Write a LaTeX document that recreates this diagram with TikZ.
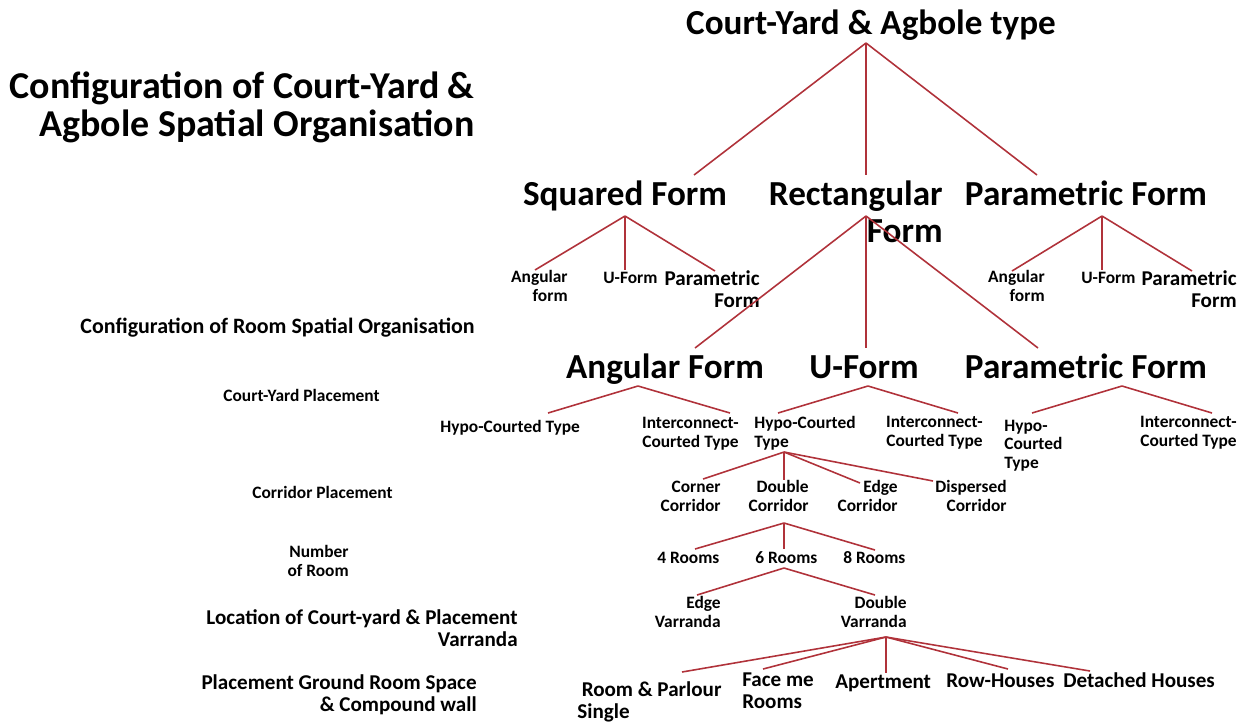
\documentclass[tikz,border=0pt]{standalone}
\usepackage{fontspec}
\setmainfont{Carlito}
\definecolor{linkred}{RGB}{176,50,58}

\begin{document}
\begin{tikzpicture}[x=0.02cm, y=-0.02cm,
	txt/.style={inner sep=0pt},
	big/.style={txt, font=\bfseries\fontsize{20}{21}\selectfont},
	head/.style={txt, font=\bfseries\fontsize{21.6}{21.4}\selectfont},
	mid/.style={txt, font=\bfseries\fontsize{12}{12}\selectfont},
	sml/.style={txt, font=\bfseries\fontsize{9.9}{10.5}\selectfont},
	link/.style={linkred, line width=0.9pt}]
\useasboundingbox (0,0) rectangle (1250,725);

% levels on the left (base = last line)
\node[head, align=right, anchor=base east] (ttl) at (475,136) {Configuration of Court-Yard \&\\Agbole Spatial Organisation};
\node[txt, font=\bfseries\fontsize{12.5}{13}\selectfont, anchor=base east] (lvRoom) at (475,333) {Configuration of Room Spatial Organisation};
\node[sml, anchor=base east] (lvCourt) at (380,401) {Court-Yard Placement};
\node[sml, anchor=base east] (lvCorr) at (393,498) {Corridor Placement};
\node[sml, align=right, anchor=base east] (lvNum) at (349,576) {Number\\of Room};
\node[mid, align=right, anchor=base east] (lvLoc) at (518,646) {Location of Court-yard \& Placement\\Varranda};
\node[mid, align=right, anchor=base east] (lvGround) at (477,711) {Placement Ground Room Space\\\& Compound wall};

% tree
\node[big, anchor=base] (root) at (871,34) {Court-Yard \& Agbole type};

\node[big, anchor=base] (sq) at (625,205) {Squared Form};
\node[big, align=right, anchor=base east] (rect) at (943,242) {Rectangular\\Form};
\node[big, anchor=base] (par) at (1086,205) {Parametric Form};

\node[sml, align=right, anchor=base east] (sqA) at (568,301) {Angular\\form};
\node[sml, anchor=base west] (sqU) at (603,283) {U-Form};
\node[mid, align=right, anchor=base east] (sqP) at (760,307) {Parametric\\Form};
\node[sml, align=right, anchor=base east] (paA) at (1045,301) {Angular\\form};
\node[sml, anchor=base west] (paU) at (1081,283) {U-Form};
\node[mid, align=right, anchor=base east] (paP) at (1237,307) {Parametric\\Form};

\node[big, anchor=base] (ang) at (665,378) {Angular Form};
\node[big, anchor=base] (uf) at (864,378) {U-Form};
\node[big, anchor=base] (pf) at (1086,378) {Parametric Form};

\node[sml, anchor=base west] (angH) at (440,432) {Hypo-Courted Type};
\node[sml, align=right, anchor=base east] (angI) at (739,447) {Interconnect-\\Courted Type};
\node[sml, align=left, anchor=base west] (ufH) at (754,447) {Hypo-Courted\\Type};
\node[sml, align=right, anchor=base east] (ufI) at (983,446) {Interconnect-\\Courted Type};
\node[sml, align=left, anchor=base west] (pfH) at (1004,468) {Hypo-\\Courted\\Type};
\node[sml, align=right, anchor=base east] (pfI) at (1237,446) {Interconnect-\\Courted Type};

\node[sml, align=right, anchor=base east] (cCorner) at (721,511) {Corner\\Corridor};
\node[sml, align=right, anchor=base east] (cDouble) at (809,511) {Double\\Corridor};
\node[sml, align=right, anchor=base east] (cEdge) at (898,511) {Edge\\Corridor};
\node[sml, align=right, anchor=base east] (cDisp) at (1007,511) {Dispersed\\Corridor};

\node[sml, anchor=base west] (r4) at (657,563) {4 Rooms};
\node[sml, anchor=base west] (r6) at (755,563) {6 Rooms};
\node[sml, anchor=base west] (r8) at (843,563) {8 Rooms};

\node[sml, align=right, anchor=base east] (vEdge) at (721,627) {Edge\\Varranda};
\node[sml, align=right, anchor=base east] (vDouble) at (907,627) {Double\\Varranda};

\node[mid, align=left, anchor=base west] (gRoom) at (577,718) {\hspace*{2.5pt}Room \& Parlour\\Single};
\node[mid, align=left, anchor=base west] (gFace) at (742,708) {Face me\\Rooms};
\node[mid, anchor=base west] (gApt) at (835,688) {Apertment};
\node[mid, anchor=base west] (gRow) at (946,687) {Row-Houses};
\node[mid, anchor=base west] (gDet) at (1063,687) {Detached Houses};

% connector ends
\coordinate (root-b) at (866,43);
\coordinate (sq-t) at (694,175); \coordinate (rect-t) at (866,175); \coordinate (par-t) at (1037,175);
\coordinate (sq-b) at (625,216);
\coordinate (sqA-t) at (535,270); \coordinate (sqU-t) at (625,270); \coordinate (sqP-t) at (715,271);
\coordinate (rect-b) at (866,216);
\coordinate (ang-t) at (695,348); \coordinate (uf-t) at (866,348); \coordinate (pf-t) at (1038,348);
\coordinate (par-b) at (1102,216);
\coordinate (paA-t) at (1012,271); \coordinate (paU-t) at (1102,270); \coordinate (paP-t) at (1192,271);
\coordinate (ang-b) at (638,386);
\coordinate (angH-t) at (548,413); \coordinate (angI-t) at (730,413);
\coordinate (uf-b) at (868,386);
\coordinate (ufH-t) at (778,413); \coordinate (ufI-t) at (958,413);
\coordinate (pf-b) at (1122,386);
\coordinate (pfH-t) at (1032,413); \coordinate (pfI-t) at (1212,413);
\coordinate (ufH-b) at (784,452);
\coordinate (cCorner-t) at (703,479); \coordinate (cDouble-t) at (784,480); \coordinate (cEdge-t) at (860,483); \coordinate (cDisp-t) at (933,481);
\coordinate (cDouble-b) at (784,523);
\coordinate (r4-t) at (695,549); \coordinate (r6-t) at (784,549); \coordinate (r8-t) at (875,550);
\coordinate (r6-b) at (784,568);
\coordinate (vEdge-t) at (697,595); \coordinate (vDouble-t) at (875,595);
\coordinate (vDouble-b) at (886,637);
\coordinate (gRoom-t) at (682,672); \coordinate (gFace-t) at (763,669); \coordinate (gApt-t) at (886,673); \coordinate (gRow-t) at (1008,669); \coordinate (gDet-t) at (1090,671);

\foreach \a/\b in {root-b/sq-t, root-b/rect-t, root-b/par-t,
		sq-b/sqA-t, sq-b/sqU-t, sq-b/sqP-t,
		rect-b/ang-t, rect-b/uf-t, rect-b/pf-t,
		par-b/paA-t, par-b/paU-t, par-b/paP-t,
		ang-b/angH-t, ang-b/angI-t, uf-b/ufH-t, uf-b/ufI-t, pf-b/pfH-t, pf-b/pfI-t,
		ufH-b/cCorner-t, ufH-b/cDouble-t, ufH-b/cEdge-t, ufH-b/cDisp-t,
		cDouble-b/r4-t, cDouble-b/r6-t, cDouble-b/r8-t,
		r6-b/vEdge-t, r6-b/vDouble-t,
		vDouble-b/gRoom-t, vDouble-b/gFace-t, vDouble-b/gApt-t, vDouble-b/gRow-t, vDouble-b/gDet-t}
	\draw[link] (\a) -- (\b);
\end{tikzpicture}
\end{document}
